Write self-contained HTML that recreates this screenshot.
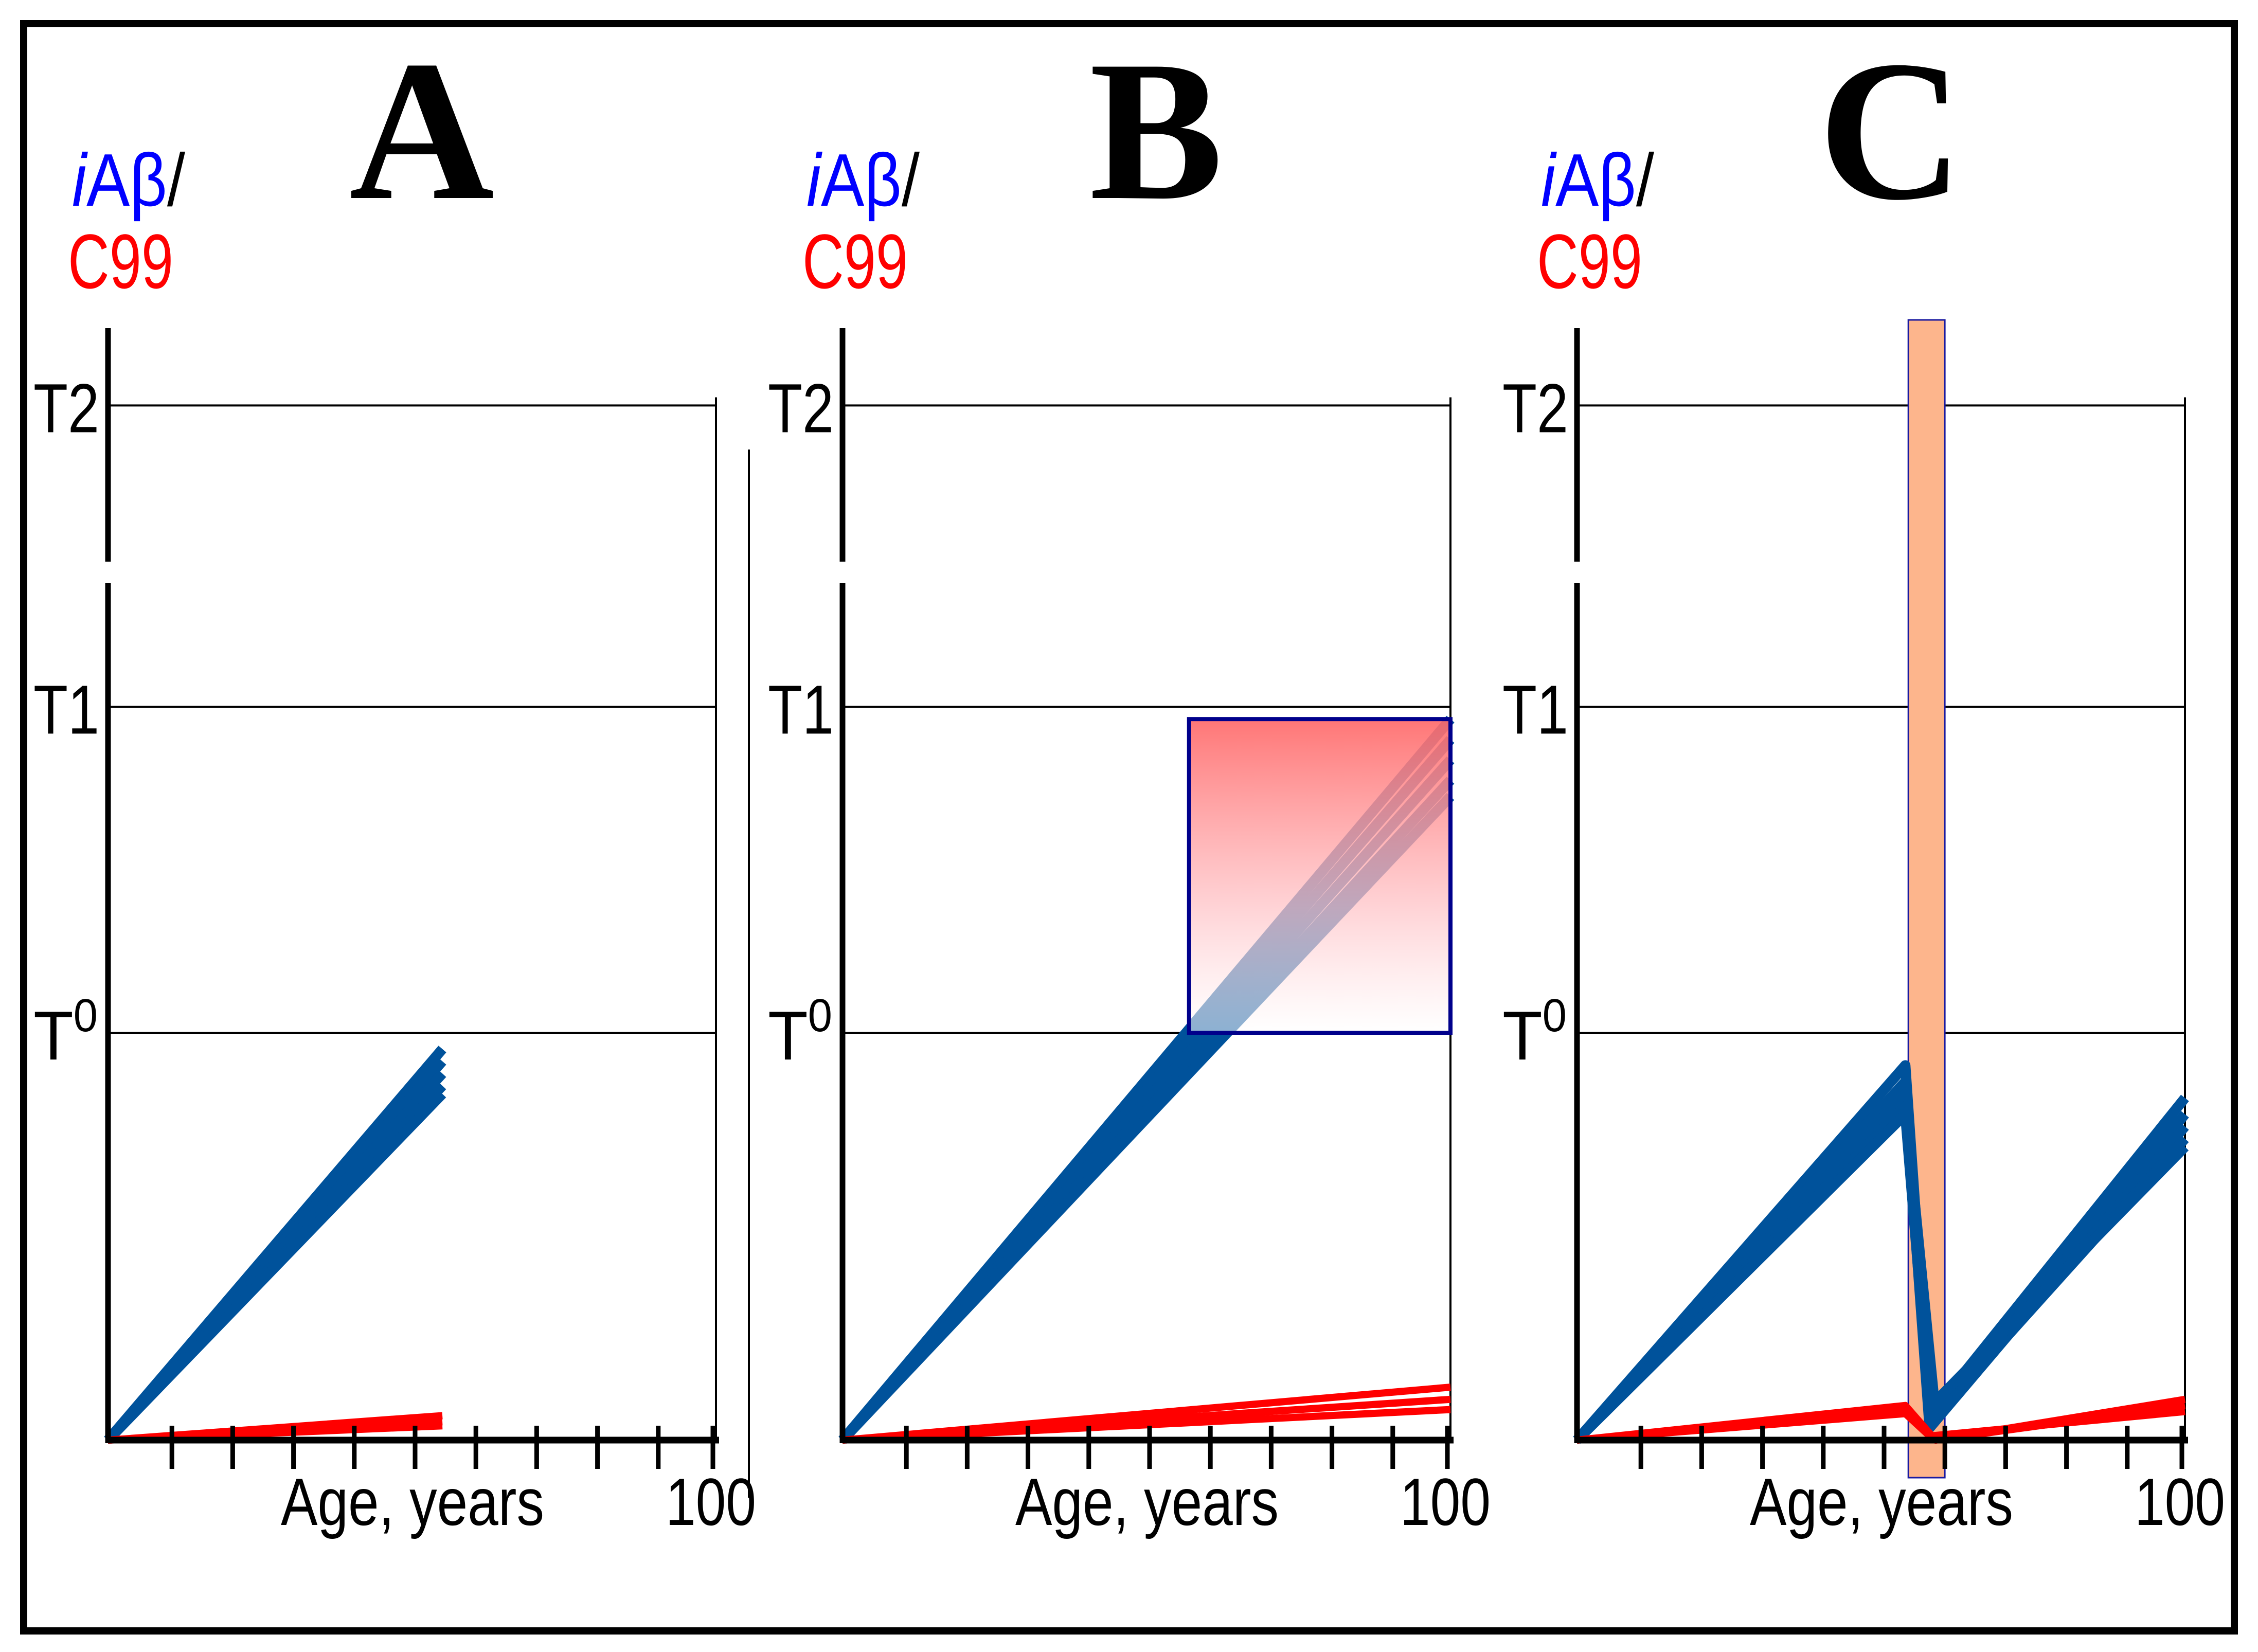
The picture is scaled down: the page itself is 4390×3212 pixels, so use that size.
<!DOCTYPE html>
<html><head><meta charset="utf-8"><style>
html,body{margin:0;padding:0;background:#fff}
svg{display:block}
</style></head><body>
<svg id="fig" width="4390" height="3212" viewBox="0 0 4390 3212" xmlns="http://www.w3.org/2000/svg" font-family="Liberation Sans, sans-serif">
<defs>
<linearGradient id="boxgrad" x1="0" y1="0" x2="0" y2="1">
<stop offset="0" stop-color="#ff6a6a" stop-opacity="0.92"/>
<stop offset="0.6" stop-color="#ffc4c8" stop-opacity="0.75"/>
<stop offset="1" stop-color="#ffffff" stop-opacity="0.55"/>
</linearGradient>
</defs>
<rect x="46" y="46" width="4298" height="3125" fill="none" stroke="#000" stroke-width="14"/>
<g id="panels"></g>
</svg>
<script>
// data
const panelNames = ["A","B","C"];
const thresholdLabels = ["T0","T1","T2"];
const thresholdValues = [1, 1.8, 2.54];
const xTicks = [10,20,30,40,50,60,70,80,90,100];
const blueA = [[[0,0],[55,0.96]],[[0,0],[55,0.93]],[[0,0],[55,0.9]],[[0,0],[55,0.87]],[[0,0],[55,0.85]]];
const redA = [[[0,0],[55,0.06]],[[0,0],[55,0.045]],[[0,0],[55,0.035]]];
const blueB = [[[0,0],[100,1.77]],[[0,0],[100,1.72]],[[0,0],[100,1.67]],[[0,0],[100,1.62]],[[0,0],[100,1.58]]];
const redB = [[[0,0],[100,0.13]],[[0,0],[100,0.1]],[[0,0],[100,0.075]]];
const blueC = [[[0,0],[54,0.92],[58,0.06],[100,0.84]],[[0,0],[54,0.88],[58,0.04],[100,0.8]],[[0,0],[54,0.85],[58,0.03],[100,0.77]],[[0,0],[54,0.82],[59,0.06],[100,0.74]],[[0,0],[54,0.8],[58,0.08],[100,0.72]]];
const redC = [[[0,0],[54,0.085],[59,0.0],[100,0.1]],[[0,0],[54,0.075],[59,0.0],[100,0.085]],[[0,0],[54,0.065],[58,0.01],[100,0.07]]];
const blueSeries = [blueA, blueB, blueC];
const redSeries = [redA, redB, redC];
const boxB = {x0:57, x1:100, y0:1, y1:1.77};
const barC = {x0:54.5, x1:60.5};

const NS="http://www.w3.org/2000/svg";
const root=document.getElementById('panels');
function mk(tag,attrs,parent){const e=document.createElementNS(NS,tag);for(const k in attrs)e.setAttribute(k,attrs[k]);(parent||root).appendChild(e);return e;}
const origins=[210,1638,3066];
const baseY=2800, W=1182, U=792;

panelNames.forEach((name,pi)=>{
  const X0=origins[pi];
  const sx=v=>X0+v/100*W;
  const sy=v=>baseY-v*U;
  const g=mk('g',{});
  
  
  const t=mk('text',{x:X0+610,y:385,'font-size':390,'font-weight':'bold','font-family':'Liberation Serif, serif','text-anchor':'middle'},g);
  t.textContent=name;
  
  
  const yl=mk('text',{x:X0-70,y:400,'font-size':145,textLength:220,lengthAdjust:'spacingAndGlyphs'},g);
  yl.innerHTML='<tspan fill="#0000ff" font-style="italic">i</tspan><tspan fill="#0000ff">Aβ</tspan><tspan fill="#000">/</tspan>';
  
  
  const yl2=mk('text',{x:X0-78,y:560,'font-size':150,fill:'#ff0000',textLength:205,lengthAdjust:'spacingAndGlyphs'},g);
  yl2.textContent='C99';
  
  
  thresholdValues.forEach((v,i)=>{
    const y=sy(v);
    const l=mk('line',{x1:X0,x2:X0+W,y1:y,y2:y,stroke:'#000','stroke-width':4},g);
    
    
    const tx=mk('text',{x:X0-145,y:y+52,'font-size':135},g);
    if(thresholdLabels[i]==='T0'){tx.innerHTML='T<tspan dy="-55" font-size="90">0</tspan>';tx.setAttribute('textLength',125);tx.setAttribute('lengthAdjust','spacingAndGlyphs');}
    else {tx.textContent=thresholdLabels[i];tx.setAttribute('textLength',128);tx.setAttribute('lengthAdjust','spacingAndGlyphs');}
    
    
  });
  const rl=mk('line',{x1:X0+W,x2:X0+W,y1:sy(2.56),y2:baseY,stroke:'#000','stroke-width':4},g);
  
  
  if(name==='C'){
    const r=mk('rect',{x:sx(barC.x0),y:622,width:sx(barC.x1)-sx(barC.x0),height:2873-622,fill:'#fdb58c',stroke:'#1a1aa0','stroke-width':3},g);
    
    
  }
  function drawSeries(series,color,w,label){
    series.forEach((pts,i)=>{
      const p=mk('polyline',{points:pts.map(d=>sx(d[0])+','+sy(d[1])).join(' '),fill:'none',stroke:color,'stroke-width':w,'stroke-linejoin':'round','stroke-linecap':'butt'},g);
      
      
    });
  }
  drawSeries(blueSeries[pi],'#00529b',20,'iab');
  drawSeries(redSeries[pi],'#ff0000',14,'c99');
  if(name==='B'){
    const r=mk('rect',{x:sx(boxB.x0),y:sy(boxB.y1),width:sx(boxB.x1)-sx(boxB.x0),height:sy(boxB.y0)-sy(boxB.y1),fill:'url(#boxgrad)',stroke:'#00008b','stroke-width':8},g);
    
    
  }
  const ya1=mk('line',{x1:X0,x2:X0,y1:638,y2:1092,stroke:'#000','stroke-width':11},g);
  
  
  const ya2=mk('line',{x1:X0,x2:X0,y1:1134,y2:baseY+6,stroke:'#000','stroke-width':11},g);
  
  
  const xa=mk('line',{x1:X0,x2:X0+W+6,y1:baseY,y2:baseY,stroke:'#000','stroke-width':13},g);
  
  
  xTicks.forEach(v=>{
    const tk=mk('line',{x1:sx(v)+6,x2:sx(v)+6,y1:2772,y2:2856,stroke:'#000','stroke-width':9},g);
    if(v===100){tk.setAttribute('x1',sx(v)-6);tk.setAttribute('x2',sx(v)-6);}
    
    
  });
  const xt=mk('text',{x:X0+336,y:2965,'font-size':130,textLength:512,lengthAdjust:'spacingAndGlyphs'},g);
  xt.textContent='Age, years';
  
  
  const h=mk('text',{x:X0+1084,y:2965,'font-size':130,textLength:176,lengthAdjust:'spacingAndGlyphs'},g);
  h.textContent='100';
  
  
  if(name==='A'){
    const vl=mk('line',{x1:1456,x2:1456,y1:874,y2:2912,stroke:'#000','stroke-width':4},g);
    
    
  }
});
</script>
</body></html>
